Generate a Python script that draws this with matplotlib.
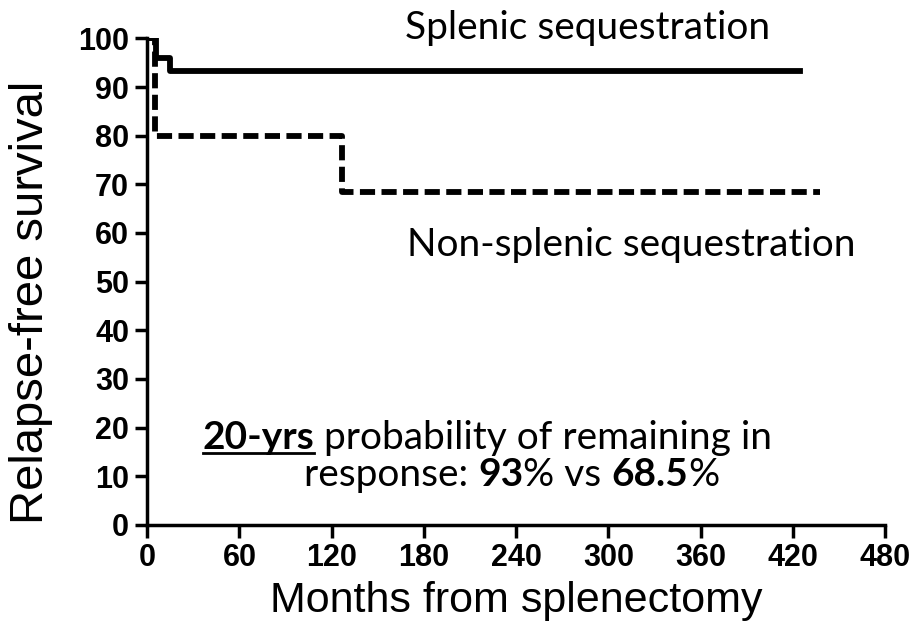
import numpy as np
import matplotlib
matplotlib.use("Agg")
import matplotlib.pyplot as plt

# step data
splenic_t = [0, 6, 15, 425]
splenic_s = [100, 96, 93.3, 93.3]
nonsplenic_t = [0, 5, 127, 438]
nonsplenic_s = [100, 80, 68.5, 68.5]

xticks = [0, 60, 120, 180, 240, 300, 360, 420, 480]
yticks = [0, 10, 20, 30, 40, 50, 60, 70, 80, 90, 100]

fig = plt.figure(figsize=(9.2, 6.4), dpi=100)
ax = fig.add_axes([0.16, 0.18, 0.802, 0.76])

ax.step(splenic_t, splenic_s, where="post", color="black", lw=4.2)
ax.step(nonsplenic_t, nonsplenic_s, where="post", color="black", lw=4.2,
        linestyle=(0, (2.6, 1.1)))

ax.set_xlim(0, 480)
ax.set_ylim(0, 100)
ax.set_xticks(xticks)
ax.set_yticks(yticks)
for s in ["top", "right"]:
    ax.spines[s].set_visible(False)
for s in ["left", "bottom"]:
    ax.spines[s].set_linewidth(2.5)
ax.tick_params(direction="out", length=9, width=2.5, pad=4)
for lab in ax.get_xticklabels() + ax.get_yticklabels():
    lab.set_fontfamily("Liberation Sans")
    lab.set_fontweight("bold")
    lab.set_fontsize(22)

ax.set_xlabel("Months from splenectomy", fontsize=31, family="Liberation Sans", labelpad=6)
ax.set_ylabel("Relapse-free survival", fontsize=34, family="Liberation Sans")
ax.yaxis.set_label_coords(-0.128, 0.457)

fnt = "Lato"
fig.text(0.639, 0.956, "Splenic sequestration", fontsize=28, family=fnt,
         ha="center", va="center")
fig.text(0.686, 0.617, "Non-splenic sequestration", fontsize=28, family=fnt,
         ha="center", va="center")


def rich_line(pieces, xc, y, size=28, underline_first=False):
    fig.canvas.draw()
    r = fig.canvas.get_renderer()
    texts = []
    for s, w in pieces:
        t = fig.text(0, y, s, fontsize=size, family=fnt, fontweight=w,
                     va="center", ha="left")
        texts.append(t)
    widths = [t.get_window_extent(r).width / fig.bbox.width for t in texts]
    x = xc - sum(widths) / 2
    for t, wd in zip(texts, widths):
        t.set_x(x)
        x += wd
    if underline_first:
        bb = texts[0].get_window_extent(r)
        x0 = texts[0].get_position()[0]
        yl = bb.y0 / fig.bbox.height + 0.004
        fig.add_artist(plt.Line2D([x0, x0 + widths[0]], [yl, yl],
                                  color="black", lw=2, transform=fig.transFigure))


rich_line([("20-yrs", "bold"), (" probability of remaining in", "normal")],
          0.530, 0.316, underline_first=True)
rich_line([("response: ", "normal"), ("93", "bold"), ("% vs ", "normal"),
           ("68.5", "bold"), ("%", "normal")], 0.556, 0.258)

fig.savefig("out.png", dpi=100)
